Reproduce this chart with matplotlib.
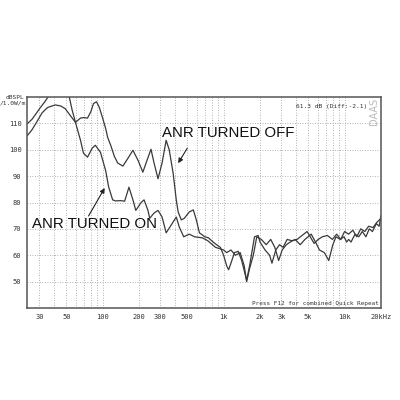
import matplotlib
matplotlib.use("Agg")
import matplotlib.pyplot as plt

# ANR turned off
freq_off = [24, 26, 28.5, 31.6, 35, 40.6, 45, 49, 55, 59.6, 65.6, 70, 75, 80, 84, 89, 94,
            100, 106, 110, 117, 125, 133, 147, 162, 178, 196, 215, 237, 251, 266, 287,
            310, 335, 355, 383, 406, 421, 447, 473, 520, 562, 595, 631, 700, 750, 820,
            874, 940, 1000, 1060, 1100, 1150, 1230, 1320, 1410, 1550, 1640, 1800, 1930,
            2000, 2200, 2400, 2510, 2700, 2900, 3100, 3350, 3680, 4050, 4450, 4900, 5200,
            5600, 6050, 6550, 7200, 7940, 8600, 9300, 10000, 10800, 11700, 12600, 13600,
            14700, 15800, 17200, 18500, 20000]
db_off = [105.5, 107.5, 110.5, 114, 116, 117, 116.6, 115.6, 112.5, 110.4, 112, 112.2, 112,
          114.5, 117.5, 118.2, 116, 112, 108, 104.7, 101.5, 97.5, 95, 93.8, 96.8, 99.8, 96,
          91.5, 97, 100.2, 95, 89, 95, 103.6, 100, 91, 81, 76.4, 73.4, 74, 76.4, 77.2, 73.4,
          68.5, 67, 66.6, 65, 64, 63, 60, 56, 54.5, 57, 61, 61.5, 58, 50.5, 56, 67, 67.5,
          65, 62, 60, 57, 62, 64, 63, 66, 65.5, 66, 67.5, 69, 67, 64.5, 66, 67, 67.5, 66,
          68, 66, 69, 68, 69.5, 67, 70, 69, 71, 70.5, 72.5, 74]

# ANR turned on
freq_on = [24, 26, 28, 30, 33, 36, 41, 46, 50, 53, 56, 59.6, 65.6, 69.4, 75, 82, 87, 96, 106,
           112, 121, 128, 141, 152, 165, 178, 188, 208, 220, 237, 245, 266, 287, 310, 335,
           360, 406, 430, 468, 520, 575, 668, 740, 857, 1000, 1060, 1150, 1250, 1370, 1480,
           1550, 1640, 1760, 1880, 2050, 2250, 2450, 2650, 2850, 3050, 3300, 3550, 3900,
           4300, 4700, 5300, 5750, 6200, 6800, 7400, 8000, 8500, 9200, 9900, 10400, 10800,
           11300, 12200, 13100, 14000, 15000, 16000, 17000, 18300, 19300, 20000]
db_on = [110, 111.5, 113.5, 115.5, 118, 120.5, 123.5, 124, 122.5, 120, 115, 110.4, 103.6,
         98.7, 97.2, 100.6, 101.7, 99, 92, 86, 81, 80.6, 80.7, 80.5, 85.8, 81, 77, 80, 81,
         77, 74, 76, 77, 74.5, 68.5, 70.7, 74.5, 70.7, 67, 68, 67, 66.6, 65.5, 63, 62, 61,
         62, 60, 61, 56, 50, 55, 60, 67, 66, 64, 66, 63, 58, 62, 64, 65, 66, 64, 66, 68,
         65, 62, 61, 58, 64, 67, 66, 67, 65, 66, 65, 68, 67, 69, 67, 70, 69, 72, 71, 75]

x_ticks = [30, 50, 100, 200, 300, 500, 1000, 2000, 3000, 5000, 10000, 20000]
x_labels = ["30", "50", "100", "200", "300", "500", "1k", "2k", "3k", "5k", "10k", "20kHz"]
y_ticks = [50, 60, 70, 80, 90, 100, 110]

grid_x = [30, 40, 50, 60, 70, 80, 90, 100, 200, 300, 400, 500, 600, 700, 800, 900,
          1000, 2000, 3000, 4000, 5000, 6000, 7000, 8000, 9000, 10000, 20000]

fig = plt.figure(figsize=(4, 4), dpi=100)
ax = fig.add_axes([0.0675, 0.23, 0.885, 0.5275])
ax.set_xscale("log")
ax.set_xlim(23.7, 20000)
ax.set_ylim(40, 120)

for g in grid_x:
    ax.axvline(g, color="#999999", lw=0.6, ls=(0, (1, 2)), zorder=0)
for g in y_ticks:
    ax.axhline(g, color="#999999", lw=0.6, ls=(0, (1, 2)), zorder=0)

ax.plot(freq_off, db_off, color="#3a3a3a", lw=0.9)
ax.plot(freq_on, db_on, color="#3a3a3a", lw=0.9)

ax.set_xticks(x_ticks)
ax.set_xticklabels(x_labels)
ax.set_xticks([], minor=True)
ax.set_yticks(y_ticks)
ax.tick_params(length=0, labelsize=5, colors="#333333", pad=4,
               labelfontfamily="DejaVu Sans Mono")
for s in ax.spines.values():
    s.set_color("#555555")
    s.set_linewidth(1.1)

fig.text(0.06, 0.752, "dBSPL", fontsize=4.5, family="DejaVu Sans Mono", ha="right", color="#333333")
fig.text(0.065, 0.738, "/1.0W/m", fontsize=4.5, family="DejaVu Sans Mono", ha="right", color="#333333")
ax.text(0.96, 0.965, "61.3 dB (Diff:-2.1)", transform=ax.transAxes, fontsize=4.5,
        family="DejaVu Sans Mono", ha="right", va="top", color="#333333")
ax.text(0.995, 0.995, "DAAS", transform=ax.transAxes, fontsize=7, rotation=90,
        ha="right", va="top", color="#bbbbbb")
ax.text(0.995, 0.01, "Press F12 for combined Quick Repeat", transform=ax.transAxes,
        fontsize=4.3, family="DejaVu Sans Mono", ha="right", va="bottom", color="#333333")

ax.text(310, 104.7, "ANR TURNED OFF", fontsize=10.8, family="Liberation Sans", color="#111111")
ax.text(26.1, 70.4, "ANR TURNED ON", fontsize=10.8, family="Liberation Sans", color="#111111")
arrow = dict(arrowstyle="-|>", color="#222222", lw=0.8, mutation_scale=7, shrinkA=0, shrinkB=0)
ax.annotate("", xy=(421, 94.9), xytext=(501, 100.6), arrowprops=arrow)
ax.annotate("", xy=(104, 85.5), xytext=(76.5, 74.9), arrowprops=arrow)

fig.savefig("out.png", dpi=100, facecolor="white")
